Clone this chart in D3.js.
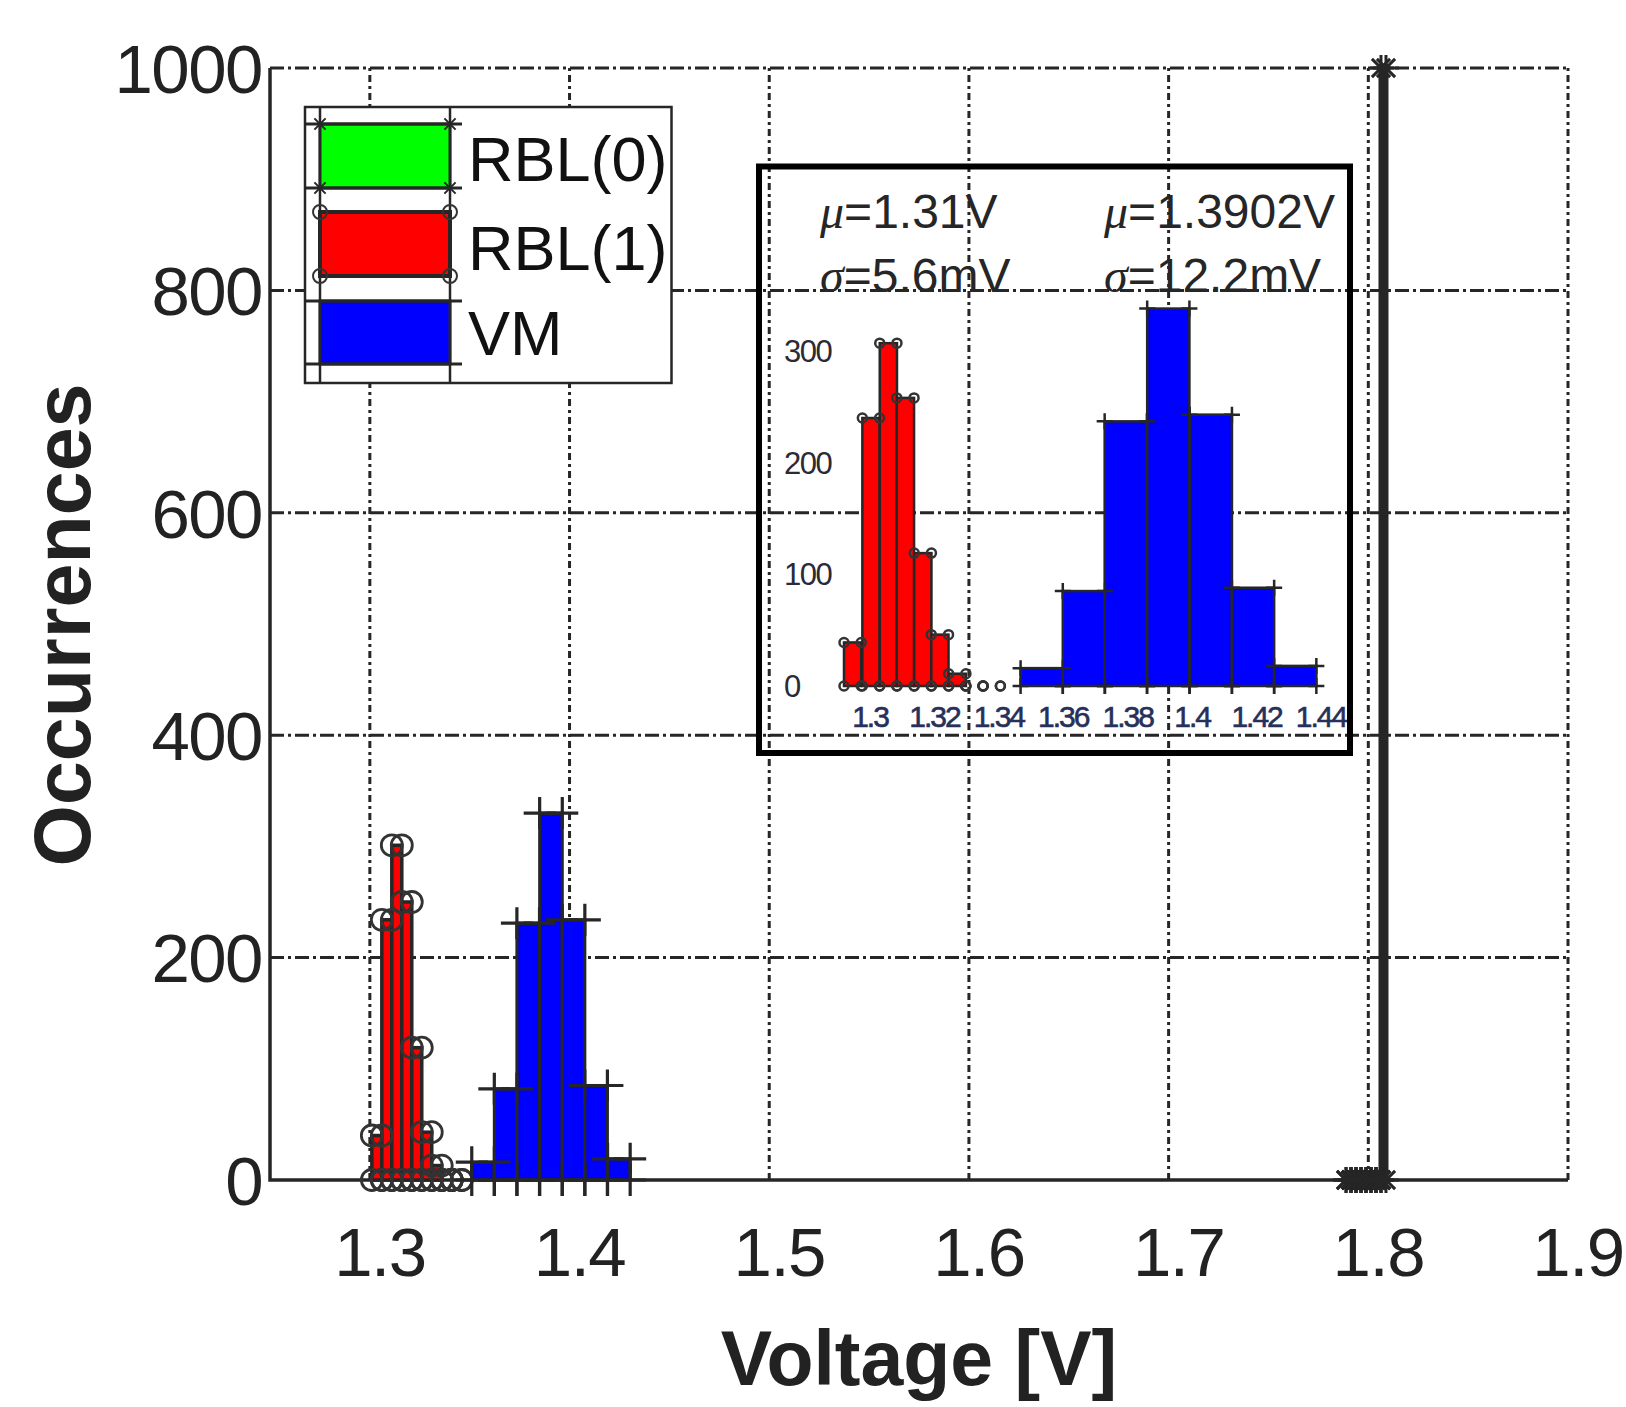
<!DOCTYPE html>
<html>
<head>
<meta charset="utf-8">
<script src="https://cdn.jsdelivr.net/npm/d3@7"></script>
<style>
  body { margin: 0; background: #fff; }
  svg { display: block; }
  text { font-family: "Liberation Sans", Arial, sans-serif; }
</style>
</head>
<body>
<div id="container"></div>
<script>
// main histogram data (bin centres in V, counts)
const xTicks = [1.3, 1.4, 1.5, 1.6, 1.7, 1.8, 1.9];
const yTicks = [0, 200, 400, 600, 800, 1000];

const rbl0Centers = [1.7901, 1.7926, 1.7951, 1.7976, 1.8001, 1.8026, 1.8051, 1.8076];
const rbl0Counts = [0, 0, 0, 0, 0, 0, 0, 1000];
const rbl0Width = 0.0025;

const rbl1Centers = [1.3035, 1.3085, 1.3135, 1.3185, 1.3235, 1.3285, 1.3335, 1.3385, 1.3435];
const rbl1Counts = [40, 234, 301, 250, 119, 43, 13, 0, 0];
const rbl1Width = 0.005;

const vmCenters = [1.3567, 1.368, 1.3793, 1.3907, 1.402, 1.4133, 1.4247];
const vmCounts = [16, 82, 231, 330, 234, 85, 19];
const vmWidth = 0.01133;

// inset (zoomed) histogram
const insetXTicks = [1.3, 1.32, 1.34, 1.36, 1.38, 1.4, 1.42, 1.44];
const insetYTicks = [0, 100, 200, 300];
const insetRbl1Centers = [1.2946, 1.3003, 1.3057, 1.311, 1.3164, 1.3217, 1.3271, 1.3324, 1.3378];
const insetRbl1Counts = [39, 240, 307, 258, 119, 46, 11, 0, 0];
const insetRbl1Width = 0.00535;
const insetVmCenters = [1.3533, 1.3664, 1.3794, 1.3926, 1.4058, 1.4189, 1.432];
const insetVmCounts = [16, 85, 237, 338, 243, 88, 18];
const insetVmWidth = 0.01311;

const statSymbols = ["μ", "σ", "μ", "σ"];
const statValues = ["=1.31V", "=5.6mV", "=1.3902V", "=12.2mV"];

const legendLabels = ["RBL(0)", "RBL(1)", "VM"];
const legendColors = ["#00ff00", "#ff0000", "#0000ff"];
const legendMarkers = ["star", "circle", "plus"];

document.addEventListener("DOMContentLoaded", function () {
  const w = 1626;
  const h = 1407;
  const ink = "#262626";

  const svg = d3
    .select("#container")
    .append("svg")
    .attr("width", w)
    .attr("height", h);

  const xs = d3.scaleLinear().domain([1.25, 1.9]).range([270, 1568]);
  const ys = d3.scaleLinear().domain([0, 1000]).range([1180, 68]);

  // gridlines
  svg
    .append("g")
    .selectAll("line")
    .data(xTicks)
    .enter()
    .append("line")
    .attr("x1", (d) => xs(d))
    .attr("x2", (d) => xs(d))
    .attr("y1", ys(0))
    .attr("y2", ys(1000))
    .attr("stroke", ink)
    .attr("stroke-width", 3)
    .attr("stroke-dasharray", "7,4,3,4");

  svg
    .append("g")
    .selectAll("line")
    .data(yTicks.filter((d) => d > 0))
    .enter()
    .append("line")
    .attr("x1", xs(1.25))
    .attr("x2", xs(1.9))
    .attr("y1", (d) => ys(d))
    .attr("y2", (d) => ys(d))
    .attr("stroke", ink)
    .attr("stroke-width", 3)
    .attr("stroke-dasharray", "14,4,3,4");

  // axis lines
  svg
    .append("path")
    .attr("d", `M${xs(1.25)},${ys(1000)}V${ys(0)}H${xs(1.9)}`)
    .attr("fill", "none")
    .attr("stroke", ink)
    .attr("stroke-width", 3.5);

  // tick labels
  svg
    .append("g")
    .selectAll("text")
    .data(yTicks)
    .enter()
    .append("text")
    .attr("x", 262)
    .attr("y", (d) => ys(d))
    .attr("dy", "0.36em")
    .attr("text-anchor", "end")
    .attr("font-size", 69)
    .attr("letter-spacing", -1.5)
    .attr("fill", "#222")
    .text((d) => d);

  svg
    .append("g")
    .selectAll("text")
    .data(xTicks)
    .enter()
    .append("text")
    .attr("x", (d) => xs(d) + 10)
    .attr("y", 1276)
    .attr("text-anchor", "middle")
    .attr("font-size", 69)
    .attr("letter-spacing", -1.5)
    .attr("fill", "#222")
    .text((d) => d);

  svg
    .append("text")
    .attr("x", 919)
    .attr("y", 1385)
    .attr("text-anchor", "middle")
    .attr("font-size", 77)
    .attr("font-weight", "bold")
    .attr("fill", "#222")
    .text("Voltage [V]");

  svg
    .append("text")
    .attr("transform", "translate(90,625) rotate(-90)")
    .attr("text-anchor", "middle")
    .attr("font-size", 79)
    .attr("font-weight", "bold")
    .attr("fill", "#222")
    .text("Occurrences");

  // markers
  const markerPath = function (type, x, y, s) {
    let p = `M${x - s},${y}H${x + s}M${x},${y - s}V${y + s}`;
    if (type === "star") {
      const k = s * 0.7;
      p += `M${x - k},${y - k}L${x + k},${y + k}M${x - k},${y + k}L${x + k},${y - k}`;
    }
    return p;
  };

  const drawMarkers = function (g, pts, type, size, sw) {
    if (type === "circle") {
      g.append("g")
        .selectAll("circle")
        .data(pts)
        .enter()
        .append("circle")
        .attr("cx", (d) => d[0])
        .attr("cy", (d) => d[1])
        .attr("r", size)
        .attr("fill", "none")
        .attr("stroke", "#333")
        .attr("stroke-width", sw);
    } else {
      g.append("g")
        .selectAll("path")
        .data(pts)
        .enter()
        .append("path")
        .attr("d", (d) => markerPath(type, d[0], d[1], size))
        .attr("fill", "none")
        .attr("stroke", ink)
        .attr("stroke-width", sw);
    }
  };

  const drawHist = function (g, xsc, ysc, centers, counts, bw, color, sw, marker, msize, msw) {
    const bins = centers.map((c, i) => ({ x0: c - bw / 2, x1: c + bw / 2, n: counts[i] }));
    g.append("g")
      .selectAll("rect")
      .data(bins)
      .enter()
      .append("rect")
      .attr("x", (d) => xsc(d.x0))
      .attr("width", (d) => xsc(d.x1) - xsc(d.x0))
      .attr("y", (d) => ysc(d.n))
      .attr("height", (d) => ysc(0) - ysc(d.n))
      .attr("fill", color)
      .attr("stroke", ink)
      .attr("stroke-width", sw);
    const pts = [];
    bins.forEach((d) => {
      pts.push([xsc(d.x0), ysc(d.n)], [xsc(d.x1), ysc(d.n)]);
      pts.push([xsc(d.x0), ysc(0)], [xsc(d.x1), ysc(0)]);
    });
    drawMarkers(g, pts, marker, msize, msw);
  };

  const plot = svg.append("g");
  drawHist(plot, xs, ys, rbl0Centers, rbl0Counts, rbl0Width, "#00ff00", 5, "star", 13, 3);
  drawHist(plot, xs, ys, rbl1Centers, rbl1Counts, rbl1Width, "#ff0000", 3.5, "circle", 10.5, 2.8);
  drawHist(plot, xs, ys, vmCenters, vmCounts, vmWidth, "#0000ff", 3, "plus", 16, 3.2);

  // inset
  const ixs = d3.scaleLinear().domain([1.3, 1.44]).range([870, 1321]);
  const iys = d3.scaleLinear().domain([0, 300]).range([686, 351]);
  const inset = svg.append("g");

  drawHist(inset, ixs, iys, insetRbl1Centers, insetRbl1Counts, insetRbl1Width, "#ff0000", 2.5, "circle", 4.5, 2.5);
  drawHist(inset, ixs, iys, insetVmCenters, insetVmCounts, insetVmWidth, "#0000ff", 2.5, "plus", 8, 2.5);

  inset
    .append("g")
    .selectAll("text")
    .data(insetYTicks)
    .enter()
    .append("text")
    .attr("x", 784)
    .attr("y", (d) => iys(d))
    .attr("dy", "0.36em")
    .attr("font-size", 31)
    .attr("letter-spacing", -1.5)
    .attr("fill", "#2b2a35")
    .text((d) => d);

  inset
    .append("g")
    .selectAll("text")
    .data(insetXTicks)
    .enter()
    .append("text")
    .attr("x", (d) => ixs(d))
    .attr("y", 727)
    .attr("text-anchor", "middle")
    .attr("font-size", 30)
    .attr("letter-spacing", -2)
    .attr("stroke", "#26305a")
    .attr("stroke-width", 0.6)
    .attr("fill", "#26305a")
    .text((d) => d);

  const statPos = [
    [820, 228],
    [820, 292],
    [1104, 228],
    [1104, 292]
  ];
  const stats = inset
    .append("g")
    .selectAll("text")
    .data(statValues)
    .enter()
    .append("text")
    .attr("x", (d, i) => statPos[i][0])
    .attr("y", (d, i) => statPos[i][1])
    .attr("font-size", 48)
    .attr("fill", "#262626");
  stats
    .append("tspan")
    .attr("font-family", "'Liberation Serif', serif")
    .attr("font-style", "italic")
    .text((d, i) => statSymbols[i]);
  stats.append("tspan").text((d) => d);

  inset
    .append("rect")
    .attr("x", 759)
    .attr("y", 166.5)
    .attr("width", 591)
    .attr("height", 586.5)
    .attr("fill", "none")
    .attr("stroke", "#000")
    .attr("stroke-width", 6);

  // legend
  const lg = svg.append("g");
  lg.append("rect")
    .attr("x", 305)
    .attr("y", 107)
    .attr("width", 366.5)
    .attr("height", 276)
    .attr("fill", "#fff")
    .attr("stroke", ink)
    .attr("stroke-width", 2.5);

  const rows = [
    [124, 188],
    [212, 276],
    [301, 364]
  ];
  lg.append("g")
    .selectAll("line")
    .data([320, 450])
    .enter()
    .append("line")
    .attr("x1", (d) => d)
    .attr("x2", (d) => d)
    .attr("y1", 107)
    .attr("y2", 383)
    .attr("stroke", ink)
    .attr("stroke-width", 2.5);

  legendLabels.forEach((label, i) => {
    const [y0, y1] = rows[i];
    lg.append("rect")
      .attr("x", 320)
      .attr("y", y0)
      .attr("width", 130)
      .attr("height", y1 - y0)
      .attr("fill", legendColors[i])
      .attr("stroke", ink)
      .attr("stroke-width", i === 1 ? 4 : 3);
    if (i !== 1) {
      lg.append("path")
        .attr("d", `M305,${y0}H462M305,${y1}H462`)
        .attr("stroke", ink)
        .attr("stroke-width", 3);
    }
    const pts = [
      [320, y0],
      [450, y0],
      [320, y1],
      [450, y1]
    ];
    drawMarkers(lg, pts, legendMarkers[i], legendMarkers[i] === "circle" ? 7 : 8, 2);
    lg.append("text")
      .attr("x", 468)
      .attr("y", [181, 270, 355][i])
      .attr("font-size", 63)
      .attr("fill", "#111")
      .text(label);
  });
});
</script>
</body>
</html>
